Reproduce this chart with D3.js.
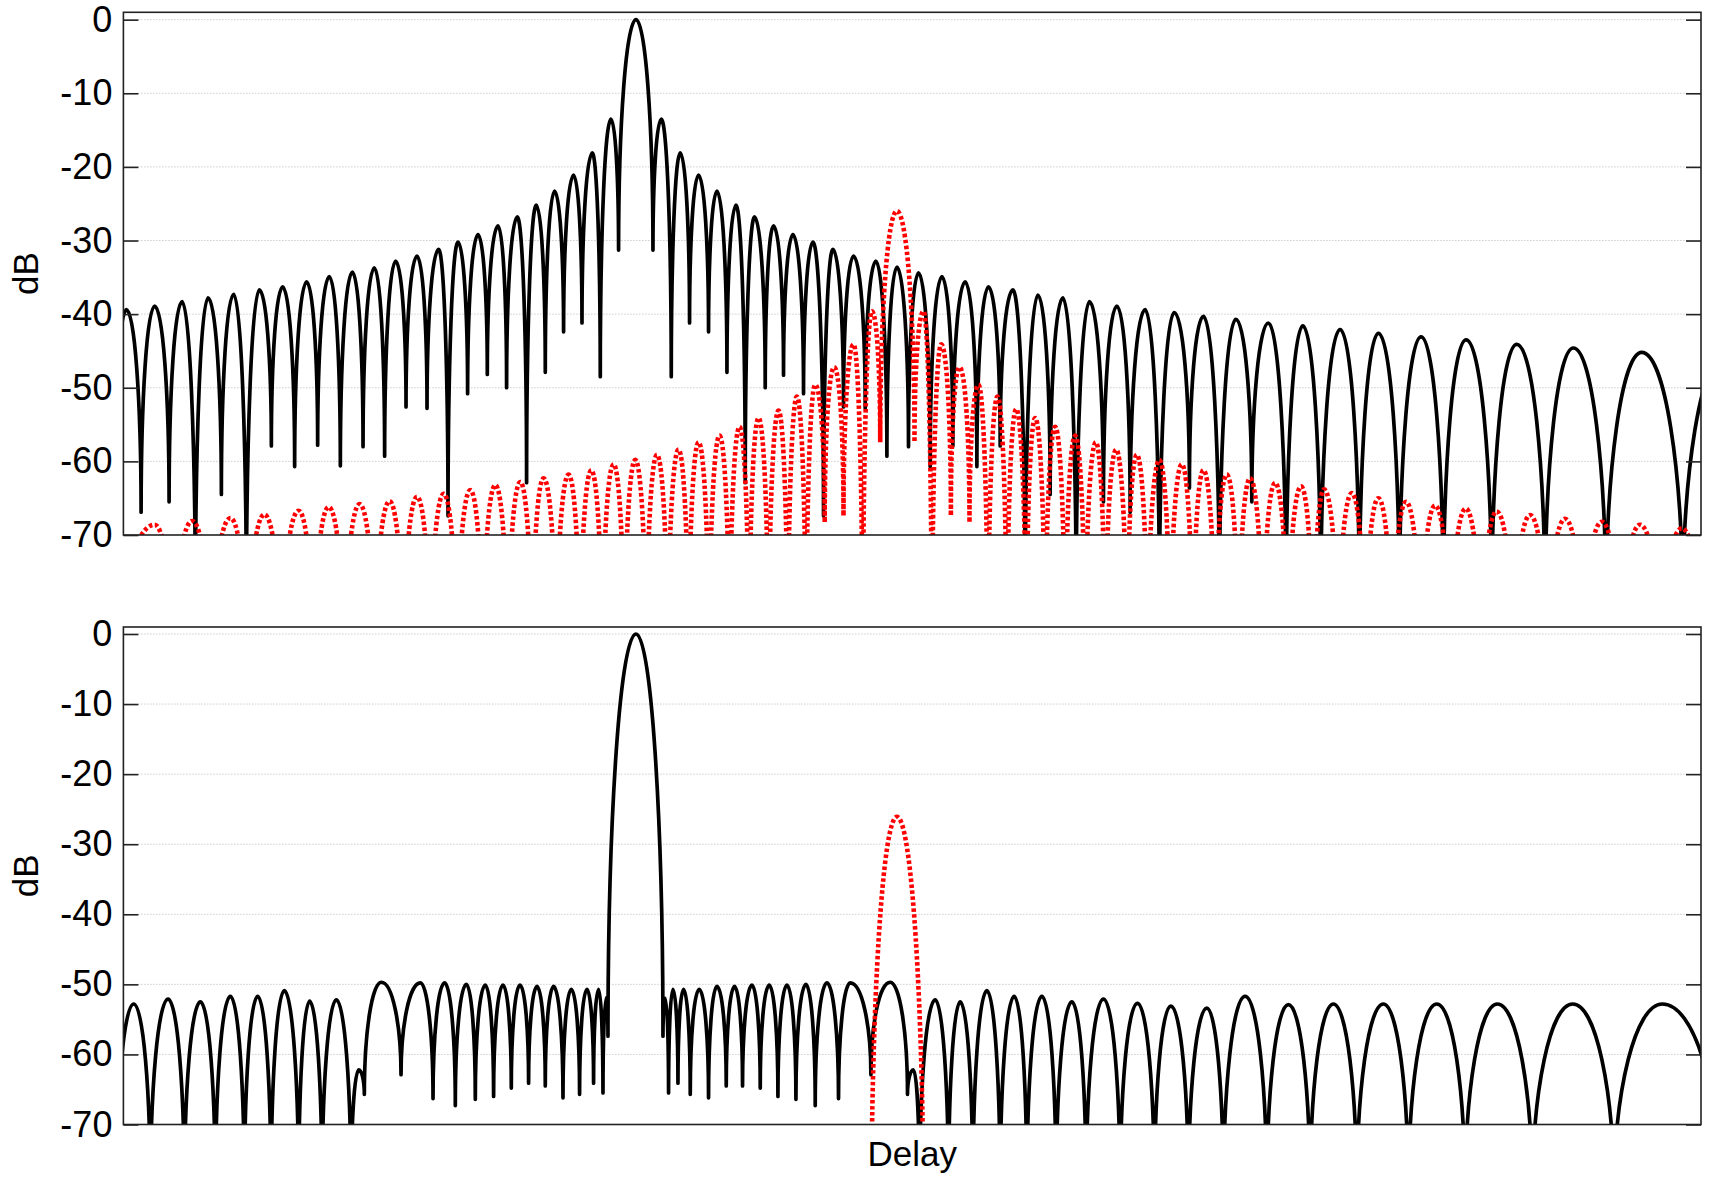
<!DOCTYPE html>
<html>
<head>
<meta charset="utf-8">
<script src="https://cdn.jsdelivr.net/npm/d3@7"></script>
<style>
  body { margin: 0; background: #fff; }
  svg text { font-family: "Liberation Sans", Arial, Helvetica, sans-serif; fill: #000; }
</style>
</head>
<body>
<div class="chart"></div>
<script>
// tick values, dB
const yTicks = [0, -10, -20, -30, -40, -50, -60, -70];

// nulls and lobe peaks, [delay, dB]
// (nulls that drop below -70 are given a value under the axis and get clipped)
const topBlack = [
  [-11,-75],[3,-39.4],[17.7,-66.9],[31.3,-38.9],[45.7,-65.5],[58.7,-38.3],[72,-80],[84.7,-37.8],
  [98,-64.5],[110.3,-37.3],[123,-80],[136,-36.7],[148,-57.9],[159.3,-36.3],[171.3,-60.7],[183.3,-35.6],
  [194.3,-57.8],[206,-34.9],[217,-60.6],[229,-34.3],[239.7,-58],[251,-33.7],[261.3,-59.3],[272.3,-32.8],
  [282.7,-52.6],[293.7,-32.1],[303.7,-52.8],[315.3,-31.2],[324.7,-67.4],[334.7,-30.2],[344.3,-50.8],
  [354.7,-29.2],[364,-48.2],[374.7,-28],[383.3,-50],[394,-26.8],[403.3,-62.9],[413,-25.2],[422,-47.9],
  [431.3,-23.3],[440.3,-42.4],[450.3,-21.1],[458.7,-41.2],[469,-18.1],[477,-48.5],[487.7,-13.5],
  [495.3,-31.3],[512.7,0],[529.7,-31.3],[538,-13.5],[548,-48.5],[557,-18.1],[566.3,-41.2],[575.3,-21.1],
  [585.3,-42.4],[593.7,-23.3],[603.7,-47.9],[612.7,-25.2],[622,-62.9],[631.3,-26.8],[642,-50],[650.3,-28],
  [660.3,-48.3],[669.7,-29.2],[680.3,-50.8],[689.7,-30.2],[700.3,-67.4],[709.7,-31.2],[720.3,-52.6],
  [730.3,-32.1],[742,-52.8],[752.7,-32.8],[763.7,-59.3],[773.7,-33.6],[785.3,-58],[795.3,-34.4],
  [807,-60.7],[818.7,-34.9],[829.7,-57.9],[842,-35.6],[853.7,-60.7],[865.3,-36.3],[877,-57.9],
  [889.7,-36.7],[902,-80],[914.7,-37.4],[927,-64.5],[939.7,-37.8],[953,-80],[966.3,-38.3],[980.3,-65.5],
  [993.7,-38.9],[1007,-66.9],[1022,-39.4],[1036.3,-80],[1051,-39.8],[1066.3,-63.6],[1080.3,-40.3],
  [1096.3,-80],[1112.7,-40.7],[1128.7,-65.5],[1145.3,-41.2],[1163,-80],[1179.7,-41.6],[1197.7,-80],
  [1217,-42.1],[1236.3,-80],[1255.3,-42.6],[1276.3,-80],[1298,-43.1],[1320.3,-80],[1343,-43.5],
  [1368.7,-80],[1393.7,-44.1],[1422,-80],[1450.3,-44.6],[1483,-80],[1518.7,-45.2],[1559.7,-80],[1601,-45.8]
];

const topRed = [
  [-6,-90],[31.3,-68.6],[50,-90],[68.7,-68.1],[88,-90],[107,-67.7],[124,-90],[141,-67.2],[158,-90],
  [175.3,-66.7],[190.3,-90],[205.3,-66.2],[221,-90],[236.3,-65.8],[251.3,-90],[266.3,-65.4],[280,-90],
  [293.7,-64.8],[307,-90],[320.3,-64.4],[333.7,-90],[347,-63.9],[359.5,-90],[372,-63.2],[384.5,-90],
  [397,-62.8],[408.7,-90],[420.3,-62.3],[433,-90],[445.3,-61.8],[456.7,-90],[468,-61.2],[479,-90],
  [490.3,-60.4],[501,-90],[512,-59.8],[523,-90],[533.7,-59.1],[544.5,-90],[555.3,-58.4],[565.3,-90],
  [575.3,-57.4],[585.8,-90],[596.3,-56.5],[606.3,-90],[616.3,-55.3],[625.8,-90],[635.3,-54.1],[645.3,-90],
  [655.3,-53.1],[664.5,-90],[673.7,-51.2],[682.8,-90],[692,-49.6],[701.5,-68.3],[711,-47.2],[720.3,-67.4],
  [730.3,-44.1],[739.5,-90],[748.7,-39.6],[757,-57.4],[773.7,-26],[791.3,-57.4],[800.3,-39.6],[808.7,-90],
  [818,-44.1],[827.7,-67.4],[836.3,-47.2],[846.3,-68.3],[855.3,-49.6],[864.7,-90],[874.3,-51.2],[883.7,-90],
  [893,-52.9],[903,-90],[912,-54.1],[922,-90],[932,-55.3],[942,-90],[952,-56.5],[962,-90],[972.7,-57.4],
  [982,-90],[993,-58.4],[1003.7,-90],[1013.7,-59.1],[1024.3,-90],[1036.3,-59.8],[1047,-90],[1058.7,-60.4],
  [1069.7,-90],[1080.3,-61.2],[1092,-90],[1103.7,-61.8],[1115.3,-90],[1127,-62.3],[1139.7,-90],[1152,-62.9],
  [1164.7,-90],[1178,-63.4],[1190,-90],[1201,-63.8],[1215,-90],[1228.7,-64.3],[1242,-90],[1255.3,-65],
  [1269,-90],[1283,-65.5],[1297.5,-90],[1312,-66],[1327.3,-90],[1342.7,-66.4],[1358,-90],[1373.7,-66.8],
  [1390.3,-90],[1407,-67.3],[1424.5,-90],[1442,-67.8],[1460.3,-90],[1478.7,-68.2],[1498,-90],[1517,-68.6],
  [1538,-90],[1558.7,-69.1],[1580,-90]
];

const bottomBlack = [
  [-7,-80],[10.3,-52.8],[27,-80],[44.7,-52.1],[61,-80],[77,-52.5],[92,-80],[107,-51.7],[121,-80],
  [134.3,-51.7],[147.7,-80],[161,-50.9],[175.3,-80],[186.3,-52.4],[198.7,-80],[213,-52.2],[227.7,-80],
  [235.3,-62.2],[241,-65.7],[258,-49.7],[277.7,-62.9],[297,-49.8],[309.7,-66.3],[321.3,-49.8],[332,-67.3],
  [343,-50],[352,-66.4],[362,-50.1],[370.3,-66],[379.7,-50.1],[388,-64.8],[396.7,-50.1],[405.3,-64.1],
  [413.7,-50.3],[422,-64.5],[430.3,-50.3],[439.7,-66.2],[448,-50.7],[456.3,-65.7],[463.7,-50.7],
  [470.3,-64.1],[475.3,-50.7],[479.7,-65.5],[483,-51.9],[484.7,-57.4],[512.7,0],[539.7,-57.4],[542,-52],
  [545.3,-65.5],[549.7,-50.7],[554.7,-64.1],[560.3,-50.7],[567,-65.7],[576,-50.7],[585.3,-66.2],
  [593.7,-50.3],[603,-64.5],[611.3,-50.3],[619.3,-64.5],[628.7,-50.1],[637,-64.8],[646,-50.1],[654.7,-66],
  [663.7,-50.1],[672.7,-66.4],[682.7,-50],[692,-67.3],[703.7,-49.8],[715.3,-66.3],[727,-49.8],[747.7,-62.9],
  [767,-49.7],[784.3,-65.7],[790.3,-62.2],[796.3,-80],[812,-52.2],[825.3,-80],[837,-52.5],[849.7,-80],
  [863.7,-50.9],[877,-80],[891,-51.7],[903.7,-80],[918.7,-51.7],[933,-80],[948.7,-52.5],[963,-80],
  [980.3,-52.1],[997,-80],[1014.3,-52.7],[1031.3,-80],[1047.7,-53.1],[1065.3,-80],[1083.7,-53.4],
  [1100.3,-80],[1122,-51.7],[1143.7,-80],[1165.3,-52.9],[1187,-80],[1210.3,-52.8],[1233.7,-80],
  [1260.3,-52.8],[1285.3,-80],[1313.7,-52.8],[1342,-80],[1374.3,-52.8],[1409.3,-80],[1449.7,-52.8],
  [1491,-80],[1539.3,-52.8],[1597,-80]
];

const bottomRed = [[748,-85],[773.7,-26.1],[800.3,-85]];

const width = 1712, height = 1178;
const left = 123.4, right = 1701;

const svg = d3.select(".chart")
  .append("svg")
  .attr("width", width)
  .attr("height", height);

const x = d3.scaleLinear().domain([0, 1578]).range([left, right]);

// arch between a null and a peak: vertical at the null, flat at the peak
function curveArch(context) {
  const k = 0.5523;
  let x0, y0, n;
  return {
    areaStart() {}, areaEnd() {},
    lineStart() { n = 0; },
    lineEnd() {},
    point(px, py) {
      if (n++ === 0) context.moveTo(px, py);
      else if (py > y0)
        context.bezierCurveTo(x0 + k * (px - x0), y0, px, py - k * (py - y0), px, py);
      else
        context.bezierCurveTo(x0, y0 + k * (py - y0), px - k * (px - x0), py, px, py);
      x0 = px; y0 = py;
    }
  };
}

const panels = [
  { id: "top", top: 12.3, bottom: 535, black: topBlack, red: topRed },
  { id: "bottom", top: 627, bottom: 1124.5, black: bottomBlack, red: bottomRed }
];

panels.forEach(p => {
  const y = d3.scaleLinear().domain([-70, 1]).range([p.bottom, p.top]);
  const g = svg.append("g");

  // dotted grid
  g.append("g")
    .selectAll("line")
    .data(yTicks.filter(d => d > -70))
    .join("line")
    .attr("x1", left).attr("x2", right)
    .attr("y1", d => y(d)).attr("y2", d => y(d))
    .attr("stroke", "#b4b4b4")
    .attr("stroke-width", 1)
    .attr("stroke-dasharray", "1 2");

  g.append("clipPath").attr("id", "clip-" + p.id)
    .append("rect")
    .attr("x", left).attr("y", p.top)
    .attr("width", right - left).attr("height", p.bottom - p.top);

  const line = d3.line()
    .x(d => x(d[0]))
    .y(d => y(d[1]))
    .curve(curveArch);

  const plot = g.append("g").attr("clip-path", `url(#clip-${p.id})`);

  plot.append("path")
    .datum(p.black)
    .attr("fill", "none")
    .attr("stroke", "#000")
    .attr("stroke-width", 3.7)
    .attr("stroke-linejoin", "round")
    .attr("d", line);

  plot.append("path")
    .datum(p.red)
    .attr("fill", "none")
    .attr("stroke", "#ff0000")
    .attr("stroke-width", 4.6)
    .attr("stroke-dasharray", "3.5 2.5")
    .attr("d", line);

  // box and inward ticks
  g.append("rect")
    .attr("x", left).attr("y", p.top)
    .attr("width", right - left).attr("height", p.bottom - p.top)
    .attr("fill", "none")
    .attr("stroke", "#222")
    .attr("stroke-width", 1.6);

  const yAxis = g.append("g")
    .attr("transform", `translate(${left},0)`)
    .call(d3.axisLeft(y).tickValues(yTicks).tickSize(-15).tickPadding(11).tickFormat(d => String(d)))
    .call(a => a.select(".domain").remove());
  yAxis.selectAll("line").attr("stroke", "#222").attr("stroke-width", 1.6);
  yAxis.selectAll("text")
    .attr("font-size", 36)
    .attr("font-family", "Liberation Sans, Arial, sans-serif")
    .attr("fill", "#000");

  g.append("g")
    .attr("transform", `translate(${right},0)`)
    .call(d3.axisRight(y).tickValues(yTicks).tickSize(-15).tickFormat(""))
    .call(a => a.select(".domain").remove())
    .selectAll("line").attr("stroke", "#222").attr("stroke-width", 1.6);

  g.append("text")
    .attr("transform", `translate(38,${(p.top + p.bottom) / 2}) rotate(-90)`)
    .attr("text-anchor", "middle")
    .attr("font-size", 35)
    .text("dB");
});

svg.append("text")
  .attr("x", (left + right) / 2)
  .attr("y", 1166)
  .attr("text-anchor", "middle")
  .attr("font-size", 35)
  .text("Delay");
</script>
</body>
</html>
